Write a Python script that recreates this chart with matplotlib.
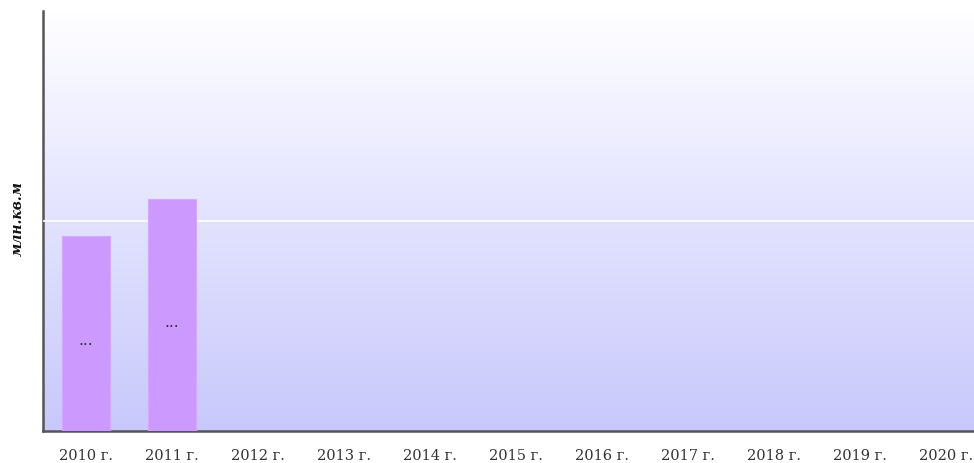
import numpy as np
import matplotlib.pyplot as plt
from matplotlib.colors import LinearSegmentedColormap

# данные
years = ["2010 г.", "2011 г.", "2012 г.", "2013 г.", "2014 г.", "2015 г.",
         "2016 г.", "2017 г.", "2018 г.", "2019 г.", "2020 г."]
values = [0.93, 1.105]          # только 2010 и 2011
bar_labels = ["...", "..."]

fig = plt.figure(figsize=(9.74, 4.64), dpi=100)
# ось шире фигуры справа, как на оригинале
ax = fig.add_axes([43 / 974, 32 / 464, 946 / 974, 420 / 464])

# фон - вертикальный градиент
cmap = LinearSegmentedColormap.from_list("bg", ["#c8c8fc", "#e2e2ff", "#ffffff"])
grad = np.linspace(0, 1, 256).reshape(-1, 1)
ax.imshow(grad, cmap=cmap, aspect="auto", origin="lower",
          extent=[0, 1, 0, 1], transform=ax.transAxes, zorder=0)

x = np.arange(len(years))
ax.bar(x[:len(values)], values, width=0.566, color="#cc99ff",
       edgecolor="#d4a8ff", linewidth=0.8, zorder=3)
for i, v in enumerate(values):
    ax.text(x[i], v / 2 - 0.03, bar_labels[i], ha="center", va="center",
            fontsize=11, color="#333333", zorder=4)

ax.set_xlim(-0.5, len(years) - 0.5)
ax.set_ylim(0, 2)
ax.set_yticks([1])
ax.yaxis.grid(True, color="white", linewidth=1.2, zorder=1)
ax.set_axisbelow(False)
ax.tick_params(axis="y", left=False, labelleft=False)
ax.tick_params(axis="x", bottom=False, pad=9)
ax.set_xticks(x)
ax.set_xticklabels(years, fontsize=10.5, color="#333333", family="DejaVu Serif")

for s in ["top", "right"]:
    ax.spines[s].set_visible(False)
for s in ["left", "bottom"]:
    ax.spines[s].set_color("#555555")
    ax.spines[s].set_linewidth(1.8)

fig.text(18 / 974, 1 - 219 / 464, "млн.кв.м", rotation=90, ha="center",
         va="center", fontsize=10, fontweight="bold", fontstyle="italic",
         family="DejaVu Serif", color="#111111")

fig.savefig("out.png", dpi=100)
